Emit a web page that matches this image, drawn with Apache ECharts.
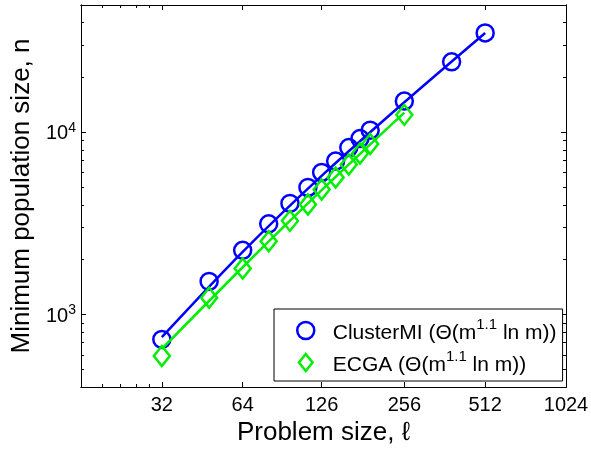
<!DOCTYPE html>
<html>
<head>
<meta charset="utf-8">
<script src="https://cdn.jsdelivr.net/npm/echarts@6/dist/echarts.min.js"></script>
<style>
  html, body { margin: 0; padding: 0; background: #fff; }
  #main { width: 591px; height: 449px; }
</style>
</head>
<body>
<div id="main"></div>
<script>
// problem sizes (x) and measured population sizes
var problemSize = [32, 48, 64, 80, 96, 112, 126, 142, 159, 175, 191, 256, 384, 512];
var clusterMI = [730, 1520, 2250, 3145, 4070, 4980, 6020, 6955, 8250, 9240, 10280, 14850, 24380, 35130];
var ecgaSize = [32, 48, 64, 80, 96, 112, 126, 142, 159, 175, 191, 256];
var ecga = [592, 1237, 1788, 2522, 3266, 4021, 4858, 5649, 6656, 7643, 8618, 12470];

// fitted curves
var clusterFitX = [32, 64, 128, 256, 512];
var clusterFit = [752, 2210, 5900, 14630, 35130];
var ecgaFitX = [32, 64, 128, 256];
var ecgaFit = [647, 1817, 4919, 12817];

// ticks
var xTicks = [32, 64, 126, 256, 512, 1024];
var xMinor = [19.2, 22.4, 25.6, 28.8];
var yTicks = [1000, 10000];
var yMinor = [500, 600, 700, 800, 900, 2000, 3000, 4000, 5000, 6000, 7000, 8000, 9000, 20000, 30000, 40000, 50000];

var FONT = 'Liberation Sans';
var BLUE = '#0000ff';
var GREEN = '#00ee00';
var DIAMOND = 'path://M0,-10 L8,0 L0,10 L-8,0 Z';

function pairs(xs, ys) {
    return xs.map(function (x, i) { return [x, ys[i]]; });
}

// one axis per tick set; the box sides are extra axes with no labels
function xAx(pos, ticks, len, labels) {
    return {
        type: 'log', logBase: 2, min: 16, max: 1024, position: pos,
        axisLine: { show: true, lineStyle: { color: '#000', width: 1 } },
        axisTick: { show: true, inside: true, length: len, customValues: ticks, lineStyle: { color: '#000' } },
        axisLabel: labels ? {
            show: true, customValues: ticks, fontSize: 20, color: '#000', fontFamily: FONT, margin: 8,
            formatter: function (v) { return String(Math.round(v)); }
        } : { show: false },
        splitLine: { show: false }, minorTick: { show: false }
    };
}
function yAx(pos, ticks, len, labels) {
    return {
        type: 'log', logBase: 10, min: 400, max: 50000, position: pos,
        axisLine: { show: true, lineStyle: { color: '#000', width: 1 } },
        axisTick: { show: true, inside: true, length: len, customValues: ticks, lineStyle: { color: '#000' } },
        axisLabel: labels ? {
            show: true, customValues: ticks, margin: 5,
            formatter: function (v) { return '{b|10}{s|' + Math.round(Math.log10(v)) + '}'; },
            rich: {
                b: { fontSize: 20, color: '#000', fontFamily: FONT, padding: [3, 0, 0, 0] },
                s: { fontSize: 14, color: '#000', fontFamily: FONT, verticalAlign: 'top' }
            }
        } : { show: false },
        splitLine: { show: false }, minorTick: { show: false }
    };
}

var chart = echarts.init(document.getElementById('main'));

var xAxes = [
    xAx('bottom', xTicks, 5, true),
    xAx('bottom', xMinor, 3, false),
    xAx('top', xTicks, 5, false),
    xAx('top', xMinor, 3, false)
];
xAxes[0].name = 'Problem size, ℓ';
xAxes[0].nameLocation = 'middle';
xAxes[0].nameGap = 31;
xAxes[0].nameTextStyle = { fontSize: 26, color: '#000', fontFamily: FONT };

var yAxes = [
    yAx('left', yTicks, 5, true),
    yAx('left', yMinor, 3, false),
    yAx('right', yTicks, 5, false),
    yAx('right', yMinor, 3, false)
];
yAxes[0].name = 'Minimum population size, n';
yAxes[0].nameLocation = 'middle';
yAxes[0].nameGap = 42;
yAxes[0].nameTextStyle = { fontSize: 26, color: '#000', fontFamily: FONT };

chart.setOption({
    animation: false,
    backgroundColor: '#fff',
    grid: { left: 81, right: 25, top: 5, bottom: 62, containLabel: false, outerBoundsMode: 'none' },
    xAxis: xAxes,
    yAxis: yAxes,
    legend: {
        orient: 'vertical', left: 274, top: 309,
        padding: [8, 6, 5, 22],
        itemWidth: 18, itemHeight: 17, itemGap: 5,
        borderColor: '#000', borderWidth: 1, backgroundColor: '#fff',
        data: [
            { name: 'ClusterMI', icon: 'circle', itemStyle: { color: 'transparent', borderColor: BLUE, borderWidth: 2.5, opacity: 1 } },
            { name: 'ECGA', icon: DIAMOND, itemStyle: { color: 'transparent', borderColor: GREEN, borderWidth: 2.5, opacity: 1 } }
        ],
        formatter: function (name) {
            return '{p|' + name + ' (Θ(m}{s|1.1}{t| ln m))}';
        },
        textStyle: {
            rich: {
                p: { fontSize: 21, color: '#000', fontFamily: FONT, padding: [6, 0, 0, 13] },
                t: { fontSize: 21, color: '#000', fontFamily: FONT, padding: [6, 0, 0, 0] },
                s: { fontSize: 15, color: '#000', fontFamily: FONT, verticalAlign: 'top' }
            }
        }
    },
    series: [
        {
            name: 'ClusterMI fit', type: 'line', smooth: 0.3, showSymbol: false, symbol: 'none',
            data: pairs(clusterFitX, clusterFit), lineStyle: { color: BLUE, width: 2.5 }, silent: true, z: 2
        },
        {
            name: 'ClusterMI', type: 'scatter', symbol: 'circle', symbolSize: 17,
            data: pairs(problemSize, clusterMI),
            itemStyle: { color: 'transparent', borderColor: BLUE, borderWidth: 2.5, opacity: 1 }, z: 3
        },
        {
            name: 'ECGA fit', type: 'line', smooth: 0.3, showSymbol: false, symbol: 'none',
            data: pairs(ecgaFitX, ecgaFit), lineStyle: { color: GREEN, width: 2.5 }, silent: true, z: 4
        },
        {
            name: 'ECGA', type: 'scatter', symbol: DIAMOND, symbolSize: [16, 20], symbolKeepAspect: false,
            data: pairs(ecgaSize, ecga),
            itemStyle: { color: 'transparent', borderColor: GREEN, borderWidth: 2.5, opacity: 1 }, z: 5
        }
    ]
});
</script>
</body>
</html>
